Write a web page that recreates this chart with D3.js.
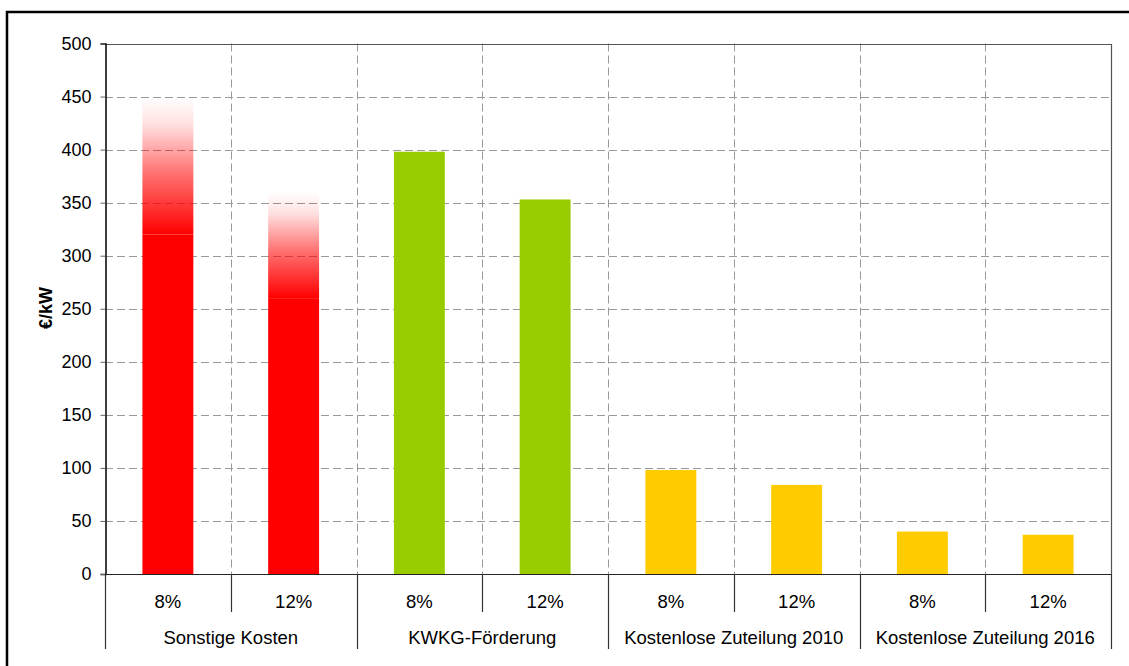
<!DOCTYPE html>
<html>
<head>
<meta charset="utf-8">
<script src="https://cdn.jsdelivr.net/npm/d3@7"></script>
<style>
  html, body { margin: 0; padding: 0; background: #fff; }
  svg { display: block; font-family: "Liberation Sans", Arial, sans-serif; }
</style>
</head>
<body>
<svg id="chart" width="1129" height="666"></svg>
<script>
// Cost categories and discount rates
const groups = ["Sonstige Kosten", "KWKG-Förderung", "Kostenlose Zuteilung 2010", "Kostenlose Zuteilung 2016"];
const rates = ["8%", "12%"];
// Solid bar values in €/kW, two per group (8%, 12%)
const values = [320, 260, 398, 353, 98, 84, 40, 37];
// Upper range for "Sonstige Kosten", drawn as a fading extension
const upperValues = [450, 360, null, null, null, null, null, null];
const groupColors = ["#FF0000", "#99CC00", "#FFCC00", "#FFCC00"];
const yTicks = [0, 50, 100, 150, 200, 250, 300, 350, 400, 450, 500];

const svg = d3.select("#chart");
const plotLeft = 105, plotRight = 1111, plotTop = 43.5, plotBottom = 574;

// Outer frame
svg.append("rect")
  .attr("x", 7).attr("y", 12).attr("width", 1140).attr("height", 700)
  .attr("fill", "none").attr("stroke", "#000").attr("stroke-width", 2.5);

const items = [];
groups.forEach((g, gi) => rates.forEach((r, ri) => {
  const i = gi * rates.length + ri;
  items.push({ key: g + "|" + r, group: g, gi, rate: r, value: values[i], upper: upperValues[i] });
}));

const x = d3.scaleBand().domain(items.map(d => d.key)).range([plotLeft, plotRight]).paddingInner(0).paddingOuter(0);
const y = d3.scaleLinear().domain([0, 500]).range([plotBottom, plotTop]);
const bw = x.bandwidth();
const barW = bw * 0.405;

// Gradient for upper-range extensions
const defs = svg.append("defs");
const grad = defs.append("linearGradient").attr("id", "fade")
  .attr("x1", 0).attr("y1", 1).attr("x2", 0).attr("y2", 0);
grad.append("stop").attr("offset", "0%").attr("stop-color", "#FF0000").attr("stop-opacity", 1);
grad.append("stop").attr("offset", "45%").attr("stop-color", "#FF0000").attr("stop-opacity", 0.55);
grad.append("stop").attr("offset", "80%").attr("stop-color", "#FF0000").attr("stop-opacity", 0.12);
grad.append("stop").attr("offset", "100%").attr("stop-color", "#FF0000").attr("stop-opacity", 0.0);

// Gridlines
const grid = svg.append("g").attr("stroke", "#999").attr("stroke-width", 1).attr("stroke-dasharray", "8,4");
grid.selectAll("line.h").data(yTicks.filter(t => t > 0 && t < 500)).join("line")
  .attr("class", "h")
  .attr("x1", plotLeft).attr("x2", plotRight)
  .attr("y1", d => Math.round(y(d)) + 0.5).attr("y2", d => Math.round(y(d)) + 0.5);
grid.selectAll("line.v").data(items.slice(1)).join("line")
  .attr("class", "v")
  .attr("x1", d => Math.round(x(d.key)) + 0.5).attr("x2", d => Math.round(x(d.key)) + 0.5)
  .attr("y1", plotTop).attr("y2", plotBottom);

// Upper-range extensions
svg.append("g").selectAll("rect").data(items.filter(d => d.upper != null)).join("rect")
  .attr("x", d => x(d.key) + (bw - barW) / 2)
  .attr("width", barW)
  .attr("y", d => y(d.upper))
  .attr("height", d => y(d.value) - y(d.upper))
  .attr("fill", "url(#fade)");

// Bars
svg.append("g").selectAll("rect").data(items).join("rect")
  .attr("x", d => x(d.key) + (bw - barW) / 2)
  .attr("width", barW)
  .attr("y", d => y(d.value))
  .attr("height", d => y(0) - y(d.value))
  .attr("fill", d => groupColors[d.gi]);

// Plot border (top and right)
svg.append("path")
  .attr("d", `M${plotLeft},${Math.round(plotTop) + 0.5}H${plotRight + 0.5}V${plotBottom}`)
  .attr("fill", "none").attr("stroke", "#555").attr("stroke-width", 1.2);

// Y axis
const yAxis = d3.axisLeft(y).tickValues(yTicks).tickSize(5).tickPadding(9);
const ya = svg.append("g").attr("transform", `translate(${plotLeft + 0.5},0)`).call(yAxis);
ya.select(".domain").attr("stroke", "#000").attr("stroke-width", 1.5);
ya.selectAll(".tick line").attr("stroke", "#666");
ya.selectAll(".tick text").attr("font-size", 18).attr("fill", "#000")
  .attr("font-family", "Liberation Sans, Arial, sans-serif");

svg.append("text")
  .attr("transform", "translate(52,308) rotate(-90)")
  .attr("text-anchor", "middle")
  .attr("font-size", 18).attr("font-weight", "bold")
  .text("€/kW");

// Baseline
svg.append("line").attr("x1", plotLeft).attr("x2", plotRight + 0.5)
  .attr("y1", plotBottom + 0.5).attr("y2", plotBottom + 0.5)
  .attr("stroke", "#222").attr("stroke-width", 1.2);

// Category separators below the axis
const seps = svg.append("g").attr("stroke", "#333").attr("stroke-width", 1.2);
items.forEach((d, i) => {
  const xx = Math.round(x(d.key)) + 0.5;
  seps.append("line").attr("x1", xx).attr("x2", xx)
    .attr("y1", plotBottom).attr("y2", i % rates.length === 0 ? 649 : 612);
});
seps.append("line").attr("x1", plotRight + 0.5).attr("x2", plotRight + 0.5).attr("y1", plotBottom).attr("y2", 649);

// Rate labels
svg.append("g").selectAll("text").data(items).join("text")
  .attr("x", d => x(d.key) + bw / 2)
  .attr("y", 607.5)
  .attr("text-anchor", "middle").attr("font-size", 18.5)
  .text(d => d.rate);

// Group labels
const gx = d3.scaleBand().domain(groups).range([plotLeft, plotRight]);
svg.append("g").selectAll("text").data(groups).join("text")
  .attr("x", d => gx(d) + gx.bandwidth() / 2)
  .attr("y", 644)
  .attr("text-anchor", "middle").attr("font-size", 18.5)
  .text(d => d);
</script>
</body>
</html>
